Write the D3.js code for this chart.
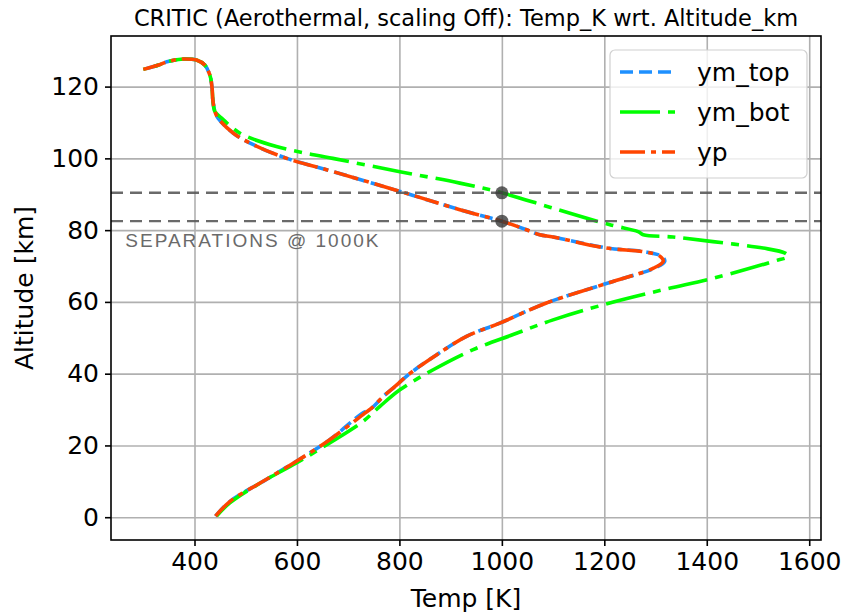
<!DOCTYPE html>
<html>
<head>
<meta charset="utf-8">
<script src="https://cdn.jsdelivr.net/npm/d3@7"></script>
<style>
  body { margin: 0; background: #fff; }
  svg { font-family: "DejaVu Sans", sans-serif; }
</style>
</head>
<body>
<script>
// curves run from the ground up to the upper left end (temp in K, altitude in km)
const ymTopTemp = [441, 470, 534, 599, 664, 727, 745, 769, 792, 820, 873, 931, 996, 1087, 1217, 1298, 1318, 1312, 1278, 1206, 1100, 1074, 1048, 1000, 918, 801, 671, 580, 515, 476, 446, 440, 436, 434, 430, 420, 404, 381, 365, 346, 330, 300]
const ymTopAlt  = [0.3, 4.5, 10.0, 15.6, 21.6, 28.9, 30.3, 33.7, 36.5, 40.0, 45.3, 50.4, 54.1, 59.7, 65.7, 69.4, 71.3, 72.7, 74.0, 75.0, 78.1, 78.7, 80.1, 82.5, 85.7, 90.8, 96.3, 100.0, 103.8, 107.0, 111.2, 113.0, 116, 120, 123.2, 126.0, 127.4, 127.7, 127.5, 126.9, 126.0, 124.8]

const ymBotTemp = [443, 469, 534, 599, 664, 729, 762, 801, 866, 944, 1022, 1100, 1198, 1315, 1413, 1530, 1559, 1553, 1510, 1412, 1334, 1276, 1266, 1211, 1100, 1000, 918, 801, 670, 560, 489, 453, 440, 436, 434, 430, 420, 404, 381, 365, 346, 330, 300]
const ymBotAlt  = [0.3, 4.0, 10.0, 15.1, 20.7, 26.7, 30.9, 35.5, 41.1, 46.7, 50.9, 55.0, 59.2, 63.4, 66.6, 71.3, 72.7, 73.6, 75.0, 76.8, 78.1, 78.7, 79.6, 81.5, 86.1, 90.4, 93.1, 96.3, 100.0, 103.3, 107.0, 111.2, 113.0, 116, 120, 123.2, 126.0, 127.4, 127.7, 127.5, 126.9, 126.0, 124.8]

const ypTemp = [441, 470, 534, 599, 664, 729, 745, 769, 792, 820, 873, 931, 996, 1087, 1217, 1296, 1315, 1309, 1276, 1204, 1100, 1074, 1048, 1000, 918, 801, 671, 580, 515, 476, 446, 440, 436, 434, 430, 420, 404, 381, 365, 346, 330, 300]
const ypAlt  = [0.3, 4.5, 10.0, 15.6, 21.6, 28.6, 30.3, 33.7, 36.5, 40.0, 45.3, 50.4, 54.1, 59.7, 65.7, 69.4, 71.3, 72.7, 74.0, 75.0, 78.1, 78.7, 80.1, 82.5, 85.7, 90.8, 96.3, 100.0, 103.8, 107.0, 111.2, 113.0, 116, 120, 123.2, 126.0, 127.4, 127.7, 127.5, 126.9, 126.0, 124.8]

const seriesNames = ["ym_top", "ym_bot", "yp"]
const sepTemp = 1000
const sepAlt = [90.4, 82.5]
const xTicks = [400, 600, 800, 1000, 1200, 1400, 1600]
const yTicks = [0, 20, 40, 60, 80, 100, 120]

const w = 844
const h = 616
const pLeft = 111, pRight = 821, pTop = 36, pBottom = 540

const xScale = d3.scaleLinear().domain([237, 1623]).range([pLeft, pRight])
const yScale = d3.scaleLinear().domain([-6.35, 134.1]).range([pBottom, pTop])

const svg = d3.select("body").append("svg")
              .attr("width", w)
              .attr("height", h)

// grid
svg.append("g")
   .attr("transform", "translate(0," + pBottom + ")")
   .call(d3.axisBottom(xScale).tickValues(xTicks).tickSize(-(pBottom - pTop)).tickFormat(""))
   .call(g => g.select(".domain").remove())
   .selectAll("line").attr("stroke", "#b0b0b0").attr("stroke-width", 1.6)
svg.append("g")
   .attr("transform", "translate(" + pLeft + ",0)")
   .call(d3.axisLeft(yScale).tickValues(yTicks).tickSize(-(pRight - pLeft)).tickFormat(""))
   .call(g => g.select(".domain").remove())
   .selectAll("line").attr("stroke", "#b0b0b0").attr("stroke-width", 1.6)

const series = [
    {name: seriesNames[0], t: ymTopTemp, a: ymTopAlt, color: "#1e90ff", dash: "13,6"},
    {name: seriesNames[1], t: ymBotTemp, a: ymBotAlt, color: "#00ff00", dash: "40,8,8,8"},
    {name: seriesNames[2], t: ypTemp, a: ypAlt, color: "#ff4500", dash: "25,6,5,6"}
]

const line = d3.line()
               .x(d => xScale(d[0]))
               .y(d => yScale(d[1]))
               .curve(d3.curveCatmullRom.alpha(0.5))

svg.append("defs").append("clipPath").attr("id", "clip")
   .append("rect").attr("x", pLeft).attr("y", pTop).attr("width", pRight - pLeft).attr("height", pBottom - pTop)

const plot = svg.append("g").attr("clip-path", "url(#clip)")

series.forEach(s => {
    plot.append("path")
        .datum(s.t.map((t, i) => [t, s.a[i]]))
        .attr("d", line)
        .attr("fill", "none")
        .attr("stroke", s.color)
        .attr("stroke-width", 3.6)
        .attr("stroke-dasharray", s.dash)
})

// separation lines
plot.selectAll(".sep")
    .data(sepAlt)
    .enter()
    .append("line")
    .attr("x1", pLeft)
    .attr("x2", pRight)
    .attr("y1", d => yScale(d))
    .attr("y2", d => yScale(d))
    .attr("stroke", "#5a5a5a")
    .attr("stroke-opacity", 0.9)
    .attr("stroke-width", 2.4)
    .attr("stroke-dasharray", "12,7")

plot.selectAll(".dot")
    .data(sepAlt)
    .enter()
    .append("circle")
    .attr("cx", xScale(sepTemp))
    .attr("cy", d => yScale(d))
    .attr("r", 6.5)
    .attr("fill", "#3a3a3a")
    .attr("fill-opacity", 0.8)

svg.append("text")
   .attr("x", xScale(265))
   .attr("y", yScale(75.4))
   .attr("font-family", "Liberation Sans, Arial, sans-serif")
   .attr("font-size", 19)
   .attr("letter-spacing", 2)
   .attr("fill", "#6a6a6a")
   .text("SEPARATIONS @ " + sepTemp + "K")

// axes
const xAxis = d3.axisBottom(xScale).tickValues(xTicks).tickSize(6).tickPadding(6).tickFormat(d3.format("d"))
const yAxis = d3.axisLeft(yScale).tickValues(yTicks).tickSize(6).tickPadding(6).tickFormat(d3.format("d"))

svg.append("g")
   .attr("id", "x-axis")
   .attr("transform", "translate(0," + pBottom + ")")
   .call(xAxis)
   .call(g => g.select(".domain").remove())
   .call(g => g.selectAll("line").attr("stroke", "#000").attr("stroke-width", 1.6))
   .call(g => g.selectAll("text").attr("font-size", 25).attr("font-family", "DejaVu Sans").attr("fill", "#000"))

svg.append("g")
   .attr("id", "y-axis")
   .attr("transform", "translate(" + pLeft + ",0)")
   .call(yAxis)
   .call(g => g.select(".domain").remove())
   .call(g => g.selectAll("line").attr("stroke", "#000").attr("stroke-width", 1.6))
   .call(g => g.selectAll("text").attr("font-size", 25).attr("font-family", "DejaVu Sans").attr("fill", "#000"))

svg.append("rect")
   .attr("x", pLeft)
   .attr("y", pTop)
   .attr("width", pRight - pLeft)
   .attr("height", pBottom - pTop)
   .attr("fill", "none")
   .attr("stroke", "#000")
   .attr("stroke-width", 1.6)

// labels
svg.append("text")
   .attr("x", (pLeft + pRight) / 2)
   .attr("y", 26)
   .attr("text-anchor", "middle")
   .attr("font-size", 22.5)
   .text("CRITIC (Aerothermal, scaling Off): Temp_K wrt. Altitude_km")

svg.append("text")
   .attr("x", (pLeft + pRight) / 2)
   .attr("y", 607)
   .attr("text-anchor", "middle")
   .attr("font-size", 25)
   .text("Temp [K]")

svg.append("text")
   .attr("transform", "translate(33," + ((pTop + pBottom) / 2) + ") rotate(-90)")
   .attr("text-anchor", "middle")
   .attr("font-size", 25)
   .text("Altitude [km]")

// legend
const legend = svg.append("g")
legend.append("rect")
      .attr("x", 610)
      .attr("y", 50)
      .attr("width", 197)
      .attr("height", 128)
      .attr("rx", 5)
      .attr("fill", "#fff")
      .attr("fill-opacity", 0.8)
      .attr("stroke", "#d0d0d0")
      .attr("stroke-width", 1.2)

series.forEach((s, i) => {
    const yy = 72 + i * 40
    legend.append("line")
          .attr("x1", 620)
          .attr("x2", 675)
          .attr("y1", yy)
          .attr("y2", yy)
          .attr("stroke", s.color)
          .attr("stroke-width", 3.6)
          .attr("stroke-dasharray", s.dash)
    legend.append("text")
          .attr("x", 697)
          .attr("y", yy + 9)
          .attr("font-size", 25)
          .text(s.name)
})
</script>
</body>
</html>
